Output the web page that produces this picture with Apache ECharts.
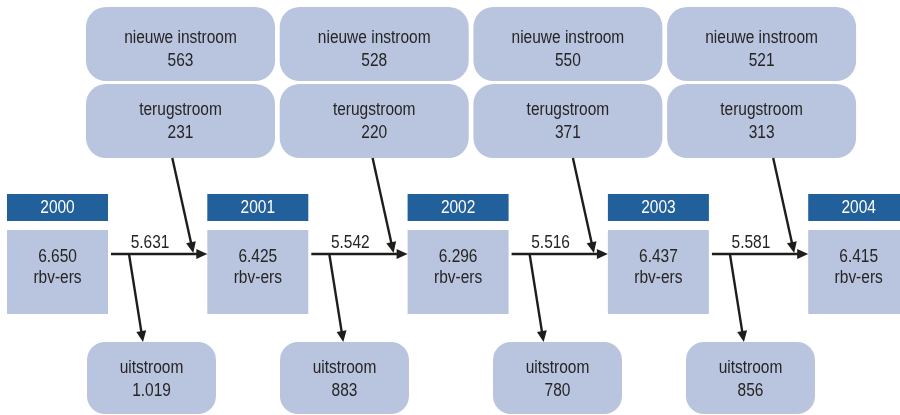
<!DOCTYPE html>
<html>
<head>
<meta charset="utf-8">
<script src="https://cdn.jsdelivr.net/npm/echarts@6/dist/echarts.min.js"></script>
<style>
  html, body { margin: 0; padding: 0; background: #fff; }
  #chart { width: 900px; height: 415px; }
</style>
</head>
<body>
<div id="chart"></div>
<script>
// data
const years = ['2000', '2001', '2002', '2003', '2004'];
const stock = [6650, 6425, 6296, 6437, 6415];          // rbv-ers per jaar
const doorstroom = [5631, 5542, 5516, 5581];           // blijvers naar volgend jaar
const nieuweInstroom = [563, 528, 550, 521];
const terugstroom = [231, 220, 371, 313];
const uitstroom = [1019, 883, 780, 856];

// layout
const FONT = "'Liberation Sans', Arial, sans-serif";
const NARROW = 0.86;   // condensed look of the original letters
const LIGHT = '#b9c5de';
const DARK = '#21609b';
const INK = '#262425';
const yearX = i => 7 + 200.3 * i;
const topX = i => 86 + 193.7 * i;
const outLeft = [87, 280, 493, 686];

const fmt = v => String(v).replace(/\B(?=(\d{3})+(?!\d))/g, '.');

function txt(api, x, y, s, color) {
    const p = api.coord([x, y]);
    return {
        type: 'text',
        x: p[0], y: p[1], scaleX: NARROW,
        style: {
            text: s, x: 0, y: 0, align: 'center', verticalAlign: 'middle',
            fontFamily: FONT, fontSize: 18, fill: color || INK
        }
    };
}

function box(api, x, y, w, h, r, fill) {
    const p = api.coord([x, y]);
    return {
        type: 'rect',
        shape: { x: p[0], y: p[1], width: w, height: h, r: r },
        style: { fill: fill }
    };
}

function arrow(api, a, b) {
    const p0 = api.coord(a), p1 = api.coord(b);
    const dx = p1[0] - p0[0], dy = p1[1] - p0[1];
    const len = Math.hypot(dx, dy), ux = dx / len, uy = dy / len;
    const hl = 11, hw = 5;
    const bx = p1[0] - ux * hl, by = p1[1] - uy * hl;
    return [
        { type: 'line', shape: { x1: p0[0], y1: p0[1], x2: bx + ux * 2, y2: by + uy * 2 },
          style: { stroke: '#1d1d1b', lineWidth: 2.4 } },
        { type: 'polygon', shape: { points: [[p1[0], p1[1]], [bx - uy * hw, by + ux * hw], [bx + uy * hw, by - ux * hw]] },
          style: { fill: '#1d1d1b' } }
    ];
}

const option = {
    animation: false,
    grid: { left: 0, right: 0, top: 0, bottom: 0 },
    xAxis: { type: 'value', min: 0, max: 900, show: false },
    yAxis: { type: 'value', min: 0, max: 415, inverse: true, show: false },
    series: [
        {
            // jaarvakken
            type: 'custom',
            data: years.map((y, i) => [i, 0]),
            renderItem: (params, api) => {
                const i = params.dataIndex, x = yearX(i);
                return {
                    type: 'group',
                    children: [
                        box(api, x, 194, 101, 27, 0, DARK),
                        txt(api, x + 50.5, 208, years[i], '#fff'),
                        box(api, x, 230, 101, 84, 0, LIGHT),
                        txt(api, x + 50.5, 257, fmt(stock[i])),
                        txt(api, x + 50.5, 278, 'rbv-ers')
                    ]
                };
            }
        },
        {
            // instroom en terugstroom
            type: 'custom',
            data: nieuweInstroom.map((v, i) => [i, 0]),
            renderItem: (params, api) => {
                const i = params.dataIndex, x = topX(i);
                return {
                    type: 'group',
                    children: [
                        box(api, x, 7, 189, 74, 20, LIGHT),
                        txt(api, x + 94.5, 38, 'nieuwe instroom'),
                        txt(api, x + 94.5, 61, fmt(nieuweInstroom[i])),
                        box(api, x, 84, 189, 74, 20, LIGHT),
                        txt(api, x + 94.5, 110, 'terugstroom'),
                        txt(api, x + 94.5, 133, fmt(terugstroom[i]))
                    ]
                };
            }
        },
        {
            // uitstroom
            type: 'custom',
            data: uitstroom.map((v, i) => [i, 0]),
            renderItem: (params, api) => {
                const i = params.dataIndex, x = outLeft[i];
                return {
                    type: 'group',
                    children: [
                        box(api, x, 342, 129, 72, 18, LIGHT),
                        txt(api, x + 64.5, 368, 'uitstroom'),
                        txt(api, x + 64.5, 391, fmt(uitstroom[i]))
                    ]
                };
            }
        },
        {
            // pijlen en doorstroom
            type: 'custom',
            data: doorstroom.map((v, i) => [i, 0]),
            renderItem: (params, api) => {
                const i = params.dataIndex, x = yearX(i), nx = yearX(i + 1);
                const dx = x + 122, tx = nx - 35;
                return {
                    type: 'group',
                    children: [].concat(
                        arrow(api, [x + 104, 254], [nx, 254]),
                        arrow(api, [dx, 254], [dx + 14, 342]),
                        arrow(api, [tx, 158], [tx + 21, 253]),
                        [txt(api, x + 143, 243, fmt(doorstroom[i]))]
                    )
                };
            }
        }
    ]
};

const myChart = echarts.init(document.getElementById('chart'));
myChart.setOption(option);
</script>
</body>
</html>
